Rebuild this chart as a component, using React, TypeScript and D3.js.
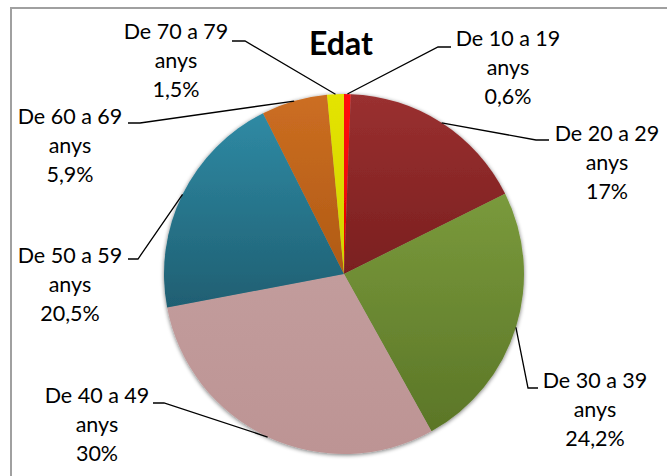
import React from "react";
import * as d3 from "d3";

const categories = ["De 10 a 19", "De 20 a 29", "De 30 a 39", "De 40 a 49", "De 50 a 59", "De 60 a 69", "De 70 a 79"];
const unitLabel = "anys";
const values = [0.6, 17, 24.2, 30, 20.5, 5.9, 1.5];
const valueLabels = ["0,6%", "17%", "24,2%", "30%", "20,5%", "5,9%", "1,5%"];
const colorsTop = ["#ff1010", "#9a3030", "#7a9a3c", "#c29c9c", "#2f8aa4", "#cc6e22", "#e4e400"];
const colorsBottom = ["#e00000", "#7a1f1f", "#5b7627", "#bd9494", "#1f5f72", "#b05a14", "#d2d200"];
const title = "Edat";

// layout: label text center x, first baseline, elbow and end of leader
const labelLayout = [
  { tx: 508, ty: 46, ex: 438, ey: 47, hx: 451 },
  { tx: 607, ty: 141, ex: 536, ey: 140, hx: 549 },
  { tx: 595, ty: 388, ex: 528, ey: 388, hx: 538 },
  { tx: 97, ty: 403, ex: 164, ey: 403, hx: 153 },
  { tx: 70, ty: 263, ex: 138, ey: 259, hx: 128 },
  { tx: 70, ty: 124, ex: 140, ey: 123, hx: 128 },
  { tx: 176, ty: 39, ex: 245, ey: 41, hx: 232 },
];

const W = 667;
const H = 476;
const cx = 344;
const cy = 274;
const R = 180;
const lineGap = 28.8;
const font = "Lato, 'Noto Sans', sans-serif";

export default function App() {
  const pie = d3
    .pie<number>()
    .sort(null)
    .value((d) => d)
    .startAngle(0)
    .endAngle(2 * Math.PI);
  const arcs = pie(values);
  const arcGen = d3.arc<d3.PieArcDatum<number>>().innerRadius(0).outerRadius(R);

  return (
    <div style={{ position: "absolute", left: 0, top: 0 }}>
      <svg width={W} height={H} style={{ display: "block", background: "#fff" }}>
        <defs>
          {values.map((_, i) => (
            <linearGradient key={i} id={`g${i}`} x1="0" y1="0" x2="0" y2="1">
              <stop offset="0%" stopColor={colorsTop[i]} />
              <stop offset="100%" stopColor={colorsBottom[i]} />
            </linearGradient>
          ))}
          <filter id="shadow" x="-20%" y="-20%" width="140%" height="140%">
            <feGaussianBlur in="SourceAlpha" stdDeviation="2" />
            <feOffset dx="0" dy="1" result="b" />
            <feComponentTransfer>
              <feFuncA type="linear" slope="0.55" />
            </feComponentTransfer>
            <feMerge>
              <feMergeNode />
              <feMergeNode in="SourceGraphic" />
            </feMerge>
          </filter>
        </defs>
        <rect x={11} y={8} width={W + 20} height={H + 20} fill="#fff" stroke="#a0a0a0" strokeWidth={2} />
        <text x={341} y={55} textAnchor="middle" fontFamily={font} fontWeight="bold" fontSize={32} fill="#000">
          {title}
        </text>
        <g transform={`translate(${cx},${cy})`} filter="url(#shadow)">
          {arcs.map((a, i) => (
            <path key={i} d={arcGen(a) || ""} fill={`url(#g${i})`} />
          ))}
        </g>
        {arcs.map((a, i) => {
          const mid = (a.startAngle + a.endAngle) / 2;
          const sx = cx + R * Math.sin(mid);
          const sy = cy - R * Math.cos(mid);
          const L = labelLayout[i];
          return (
            <g key={i}>
              <polyline
                points={`${sx},${sy} ${L.ex},${L.ey} ${L.hx},${L.ey}`}
                fill="none"
                stroke="#000"
                strokeWidth={1.3}
              />
              <text textAnchor="middle" fontFamily={font} fontSize={21.5} fill="#000">
                <tspan x={L.tx} y={L.ty}>{categories[i]}</tspan>
                <tspan x={L.tx} y={L.ty + lineGap}>{unitLabel}</tspan>
                <tspan x={L.tx} y={L.ty + 2 * lineGap}>{valueLabels[i]}</tspan>
              </text>
            </g>
          );
        })}
      </svg>
    </div>
  );
}
